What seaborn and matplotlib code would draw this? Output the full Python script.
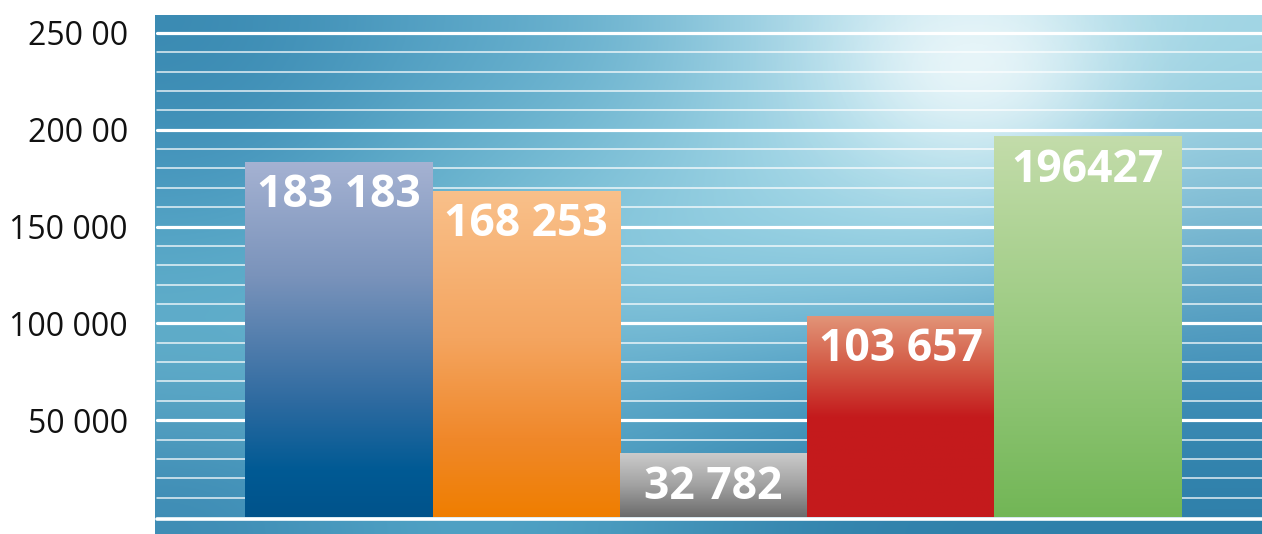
import numpy as np
import pandas as pd
import matplotlib
matplotlib.use("Agg")
import matplotlib.pyplot as plt
from matplotlib.colors import LinearSegmentedColormap, to_rgb
import seaborn as sns

# data
categories = ["A", "B", "C", "D", "E"]
values = [183183, 168253, 32782, 103657, 196427]
bar_labels = ["183 183", "168 253", "32 782", "103 657", "196427"]
tick_values = [50000, 100000, 150000, 200000, 250000]
tick_labels = ["50 000", "100 000", "150 000", "200 00", "250 00"]

# gradient stops per bar (top -> bottom)
bar_grads = [
    [(0.0, "#a5b2d2"), (0.32, "#7a93bb"), (0.68, "#2d6aa0"), (0.87, "#005a94"), (1.0, "#00538b")],
    [(0.0, "#f9c08a"), (0.45, "#f4a560"), (0.76, "#f0882a"), (1.0, "#ef7e00")],
    [(0.0, "#cbcbcb"), (0.5, "#a2a2a2"), (1.0, "#6b6b6b")],
    [(0.0, "#e29478"), (0.25, "#d35a45"), (0.5, "#c41b1d"), (1.0, "#c41a1c")],
    [(0.0, "#c3dcaa"), (0.5, "#9ccb82"), (1.0, "#72b656")],
]

sns.set_theme(style="white")
plt.rcParams["font.family"] = ["Open Sans", "DejaVu Sans"]

df = pd.DataFrame({"cat": categories, "val": values})

fig = plt.figure(figsize=(12.62, 5.34), dpi=100)
ax = fig.add_axes([155 / 1262, 0, 1 - 155 / 1262, 1 - 15 / 534])

sns.barplot(data=df, x="cat", y="val", width=1.0, color="#888888",
            linewidth=0, ax=ax, zorder=3)

# background texture
bg_hex = [
    ["#3a8ab2", "#55a2c5", "#6cb3cf", "#b0dcea", "#e0f3f8", "#a0d5e4"],
    ["#4595bd", "#68b2cd", "#80c2d8", "#a5d8e7", "#c0e6f0", "#8cc5da"],
    ["#5eadca", "#6ab7d0", "#95d0e3", "#8ccbdf", "#8ccadf", "#66aac8"],
    ["#61acc9", "#62afcb", "#64adcc", "#4d9dc3", "#4595bd", "#3f8eb8"],
    ["#3d8bb4", "#52a5c7", "#4a9bbf", "#3484ad", "#2e80aa", "#2f80aa"],
]
bg = np.array([[to_rgb(c) for c in row] for row in bg_hex])
ax.imshow(bg, extent=(0, 1, 0, 1), transform=ax.transAxes, aspect="auto",
          interpolation="bicubic", zorder=0)

gx, gy = np.meshgrid(np.linspace(0, 1, 300), np.linspace(0, 1, 150))
glow = np.zeros((150, 300, 4))
glow[..., :3] = 1.0
glow[..., 3] = 0.55 * np.exp(-(((gx - 0.74) / 0.10) ** 2 + ((gy - 0.10) / 0.16) ** 2))
ax.imshow(glow, extent=(0, 1, 0, 1), transform=ax.transAxes, aspect="auto",
          interpolation="bilinear", zorder=0.5)

# grid lines
for v in range(10000, 260000, 10000):
    if v % 50000 == 0:
        ax.axhline(v, xmin=0.002, color="white", lw=2.3, zorder=1)
    else:
        ax.axhline(v, xmin=0.002, color="white", lw=1.1, alpha=0.85, zorder=1)
ax.axhline(-1000, xmin=0.002, color="white", lw=2.6, zorder=1)

# gradient fills
for patch, stops, lab in zip(ax.patches, bar_grads, bar_labels):
    x0, w, h = patch.get_x(), patch.get_width(), patch.get_height()
    cmap = LinearSegmentedColormap.from_list("g", stops)
    grad = np.linspace(0, 1, 256).reshape(-1, 1)
    ax.imshow(grad, cmap=cmap, extent=(x0, x0 + w, 0, h), aspect="auto",
              origin="upper", zorder=3)
    patch.set_visible(False)
    ax.annotate(lab, (x0 + w / 2, h), xytext=(0, -32.5), textcoords="offset points",
                ha="center", va="baseline", color="white", fontsize=32,
                fontweight="bold", zorder=5)

ax.set_xlim(-0.983, 4.93)
ax.set_ylim(-8780, 259280)
ax.set_xlabel("")
ax.set_ylabel("")
ax.set_xticks([])
ax.set_yticks(tick_values)
ax.set_yticklabels(tick_labels, fontsize=23, color="#111111")
ax.tick_params(axis="y", length=0, pad=19.5)
for s in ax.spines.values():
    s.set_visible(False)

fig.savefig("out.png", dpi=100)
